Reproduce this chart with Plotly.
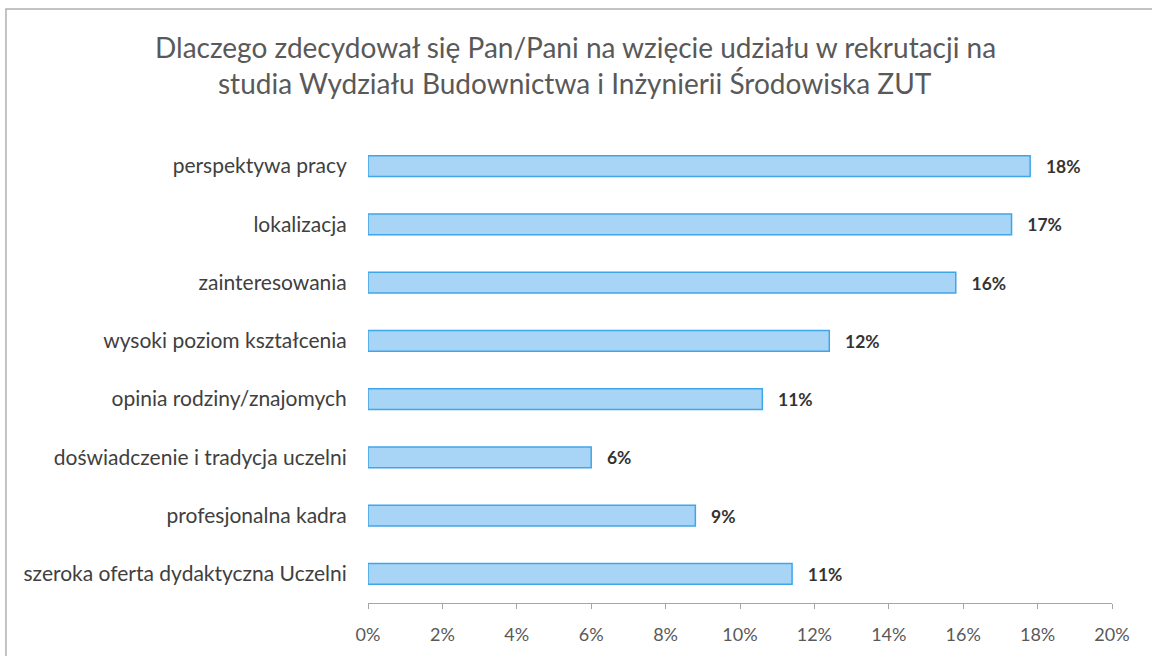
import plotly.graph_objects as go

categories = [
    "perspektywa pracy",
    "lokalizacja",
    "zainteresowania",
    "wysoki poziom kształcenia",
    "opinia rodziny/znajomych",
    "doświadczenie i tradycja uczelni",
    "profesjonalna kadra",
    "szeroka oferta dydaktyczna Uczelni",
]
shares = [0.178, 0.173, 0.158, 0.124, 0.106, 0.060, 0.088, 0.114]
x_ticks = [0, 0.02, 0.04, 0.06, 0.08, 0.10, 0.12, 0.14, 0.16, 0.18, 0.20]
title_lines = [
    "Dlaczego zdecydował się Pan/Pani na wzięcie udziału w rekrutacji na",
    "studia Wydziału Budownictwa i Inżynierii Środowiska ZUT",
]

FONT = "Lato"
GREY = "#595959"
DARK = "#404040"

fig = go.Figure(
    go.Bar(
        x=shares,
        y=categories,
        orientation="h",
        marker=dict(color="#a8d5f6", line=dict(color="#3fa6ea", width=1.5)),
        texttemplate="\u00a0\u00a0\u00a0%{x:.0%}",
        textposition="outside",
        textfont=dict(family=FONT, size=20, color="#333333", weight="bold"),
        cliponaxis=False,
        hoverinfo="skip",
    )
)

# two title lines placed separately to match the line spacing
for line, ypos in zip(title_lines, [1.193, 1.116]):
    fig.add_annotation(
        text=line, xref="paper", yref="paper", x=0.2785, y=ypos,
        xanchor="center", yanchor="middle", showarrow=False,
        font=dict(family=FONT, size=28, color=GREY),
    )

fig.update_layout(
    width=1152,
    height=656,
    paper_bgcolor="white",
    plot_bgcolor="white",
    bargap=0.64,
    showlegend=False,
    margin=dict(l=368, r=40, t=137, b=53),
    xaxis=dict(
        range=[0, 0.20],
        tickvals=x_ticks,
        tickformat=".0%",
        showgrid=False,
        zeroline=False,
        showline=True,
        linecolor="#a6a6a6",
        linewidth=1,
        ticks="outside",
        ticklen=5,
        tickcolor="#a6a6a6",
        ticklabelstandoff=10,
        tickfont=dict(family=FONT, size=18, color=GREY),
        fixedrange=True,
    ),
    yaxis=dict(
        autorange="reversed",
        showgrid=False,
        showline=False,
        ticks="outside",
        ticklen=16,
        tickcolor="rgba(0,0,0,0)",
        tickfont=dict(family=FONT, size=21, color=DARK),
        fixedrange=True,
    ),
    shapes=[
        dict(
            type="rect",
            xref="paper",
            yref="paper",
            x0=-0.4866,
            x1=1.2,
            y0=-0.3,
            y1=1.2747,
            line=dict(color="#b0b0b0", width=1.5),
            fillcolor="rgba(0,0,0,0)",
            layer="below",
        )
    ],
)

fig.write_html(
    "out.html",
    config={"displayModeBar": False},
    post_script="document.body.style.margin='0px';",
)
